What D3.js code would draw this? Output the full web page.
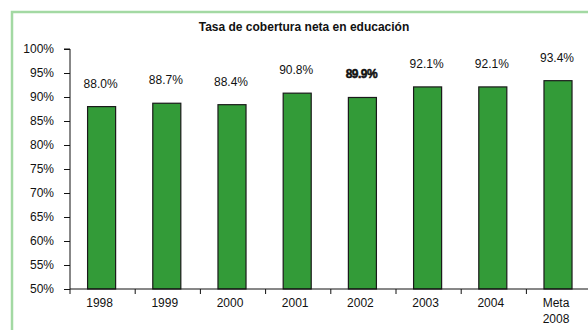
<!DOCTYPE html>
<html>
<head>
<meta charset="utf-8">
<script src="https://cdn.jsdelivr.net/npm/d3@7"></script>
<style>
  html, body { margin: 0; padding: 0; background: #fff; }
  svg { display: block; font-family: "Liberation Sans", Arial, sans-serif; }
</style>
</head>
<body>
<svg id="chart" width="588" height="330"></svg>
<script>
// Net education coverage rate by year, plus the 2008 target
const categories = ["1998", "1999", "2000", "2001", "2002", "2003", "2004", "Meta\n2008"];
const values = [88.0, 88.7, 88.4, 90.8, 89.9, 92.1, 92.1, 93.4];
const emphasized = ["2002"];
const yTicks = [50, 55, 60, 65, 70, 75, 80, 85, 90, 95, 100];
const title = "Tasa de cobertura neta en educación";

const svg = d3.select("#chart");

// light green frame (top and left edges visible)
svg.append("path")
  .attr("d", "M12,330 V12 H588")
  .attr("fill", "none")
  .attr("stroke", "#a3d9a3")
  .attr("stroke-width", 2.5);

const plot = { left: 70, right: 591.6, top: 49, bottom: 289 };

const x = d3.scaleBand().domain(categories).range([plot.left, plot.right]).padding(0);
const y = d3.scaleLinear().domain([50, 100]).range([plot.bottom, plot.top]);

const barFrac = 0.43;
const bw = x.bandwidth();

// title
svg.append("text")
  .attr("x", 304).attr("y", 31)
  .attr("text-anchor", "middle")
  .attr("font-size", 12).attr("font-weight", "bold")
  .attr("fill", "#111")
  .text(title);

// bars
svg.append("g").selectAll("rect")
  .data(categories)
  .join("rect")
  .attr("x", d => x(d) + bw * (1 - barFrac) / 2 - 1)
  .attr("width", bw * barFrac)
  .attr("y", (d, i) => y(values[i]))
  .attr("height", (d, i) => y(50) - y(values[i]))
  .attr("fill", "#339b38")
  .attr("stroke", "#1a1a1a")
  .attr("stroke-width", 1.2);

// value labels
svg.append("g").selectAll("text")
  .data(categories)
  .join("text")
  .attr("x", d => x(d) + bw / 2 - 2)
  .attr("y", (d, i) => y(values[i]) - 19)
  .attr("text-anchor", "middle")
  .attr("font-size", 12)
  .attr("fill", "#111")
  .attr("font-weight", d => emphasized.includes(d) ? "bold" : "normal")
  .attr("stroke", d => emphasized.includes(d) ? "#111" : "none")
  .attr("stroke-width", 0.5)
  .attr("letter-spacing", d => emphasized.includes(d) ? -0.5 : 0)
  .text((d, i) => values[i].toFixed(1) + "%");

// y axis
const yAxis = d3.axisLeft(y)
  .tickValues(yTicks)
  .tickSize(6)
  .tickPadding(10)
  .tickFormat(d => d + "%");
const gy = svg.append("g").attr("transform", `translate(${plot.left},0)`).call(yAxis);
gy.select(".domain").attr("stroke", "#111").attr("d", `M-6,${plot.top}H0V${plot.bottom}`);
gy.selectAll(".tick line").attr("stroke", "#111");
gy.selectAll(".tick text").attr("font-size", 12).attr("fill", "#111")
  .attr("font-family", "'Liberation Sans', Arial, sans-serif");

// x axis: baseline with ticks at category boundaries
const gx = svg.append("g");
gx.append("line")
  .attr("x1", plot.left).attr("x2", plot.right)
  .attr("y1", plot.bottom).attr("y2", plot.bottom)
  .attr("stroke", "#111");
gx.selectAll("line.tk")
  .data(categories)
  .join("line")
  .attr("class", "tk")
  .attr("x1", d => x(d)).attr("x2", d => x(d))
  .attr("y1", plot.bottom).attr("y2", plot.bottom + 5)
  .attr("stroke", "#111");

const xl = gx.selectAll("text")
  .data(categories)
  .join("text")
  .attr("x", d => x(d) + bw / 2 - 3)
  .attr("y", 307)
  .attr("text-anchor", "middle")
  .attr("font-size", 12)
  .attr("fill", "#111");
xl.selectAll("tspan")
  .data(d => d.split("\n"))
  .join("tspan")
  .attr("x", function () { return d3.select(this.parentNode).attr("x"); })
  .attr("dy", (d, i) => i === 0 ? 0 : 16)
  .text(d => d);
</script>
</body>
</html>
